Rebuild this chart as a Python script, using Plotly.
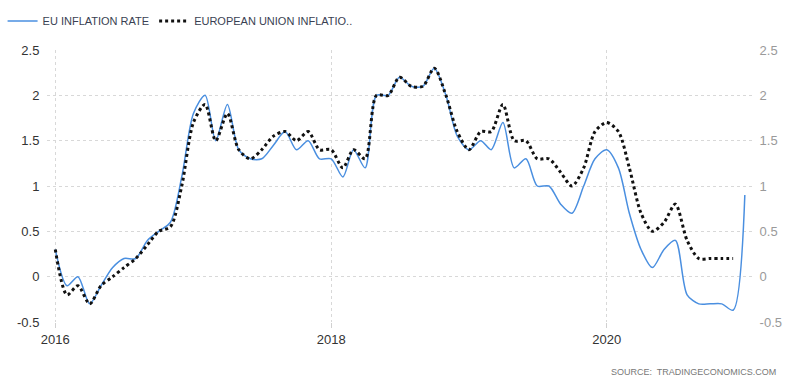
import pandas as pd
import plotly.graph_objects as go

months_blue = pd.date_range("2016-01-01", periods=61, freq="MS")
months_black = months_blue[:60]

eu_inflation_rate = [
    0.3, -0.1, 0.0, -0.3, -0.1, 0.1, 0.2, 0.2, 0.4, 0.5, 0.6, 1.1,
    1.8, 2.0, 1.5, 1.9, 1.4, 1.3, 1.3, 1.45, 1.6, 1.4, 1.5, 1.3,
    1.3, 1.1, 1.4, 1.2, 2.0, 2.0, 2.2, 2.1, 2.1, 2.3, 2.0, 1.55,
    1.4, 1.5, 1.4, 1.7, 1.2, 1.3, 1.0, 1.0, 0.8, 0.7, 1.0, 1.3,
    1.4, 1.2, 0.7, 0.3, 0.1, 0.3, 0.4, -0.2, -0.3, -0.3, -0.3, -0.37,
    0.9,
]
european_union_inflation = [
    0.3, -0.2, -0.1, -0.3, -0.1, 0.0, 0.1, 0.2, 0.35, 0.5, 0.55, 1.0,
    1.7, 1.9, 1.5, 1.8, 1.4, 1.3, 1.4, 1.55, 1.6, 1.5, 1.6, 1.4,
    1.4, 1.2, 1.4, 1.3, 2.0, 2.0, 2.2, 2.1, 2.1, 2.3, 2.0, 1.6,
    1.4, 1.6, 1.6, 1.9, 1.5, 1.5, 1.3, 1.3, 1.15, 1.0, 1.2, 1.6,
    1.7, 1.6, 1.2, 0.7, 0.5, 0.6, 0.8, 0.4, 0.2, 0.2, 0.2, 0.2,
]
y_ticks = [-0.5, 0, 0.5, 1, 1.5, 2, 2.5]
y_tick_labels = ["-0.5", "0", "0.5", "1", "1.5", "2", "2.5"]
x_ticks = ["2016-01-01", "2018-01-01", "2020-01-01"]
x_tick_labels = ["2016", "2018", "2020"]

FONT = "Liberation Sans, Arial, sans-serif"

fig = go.Figure()
fig.add_trace(go.Scatter(
    x=months_blue, y=eu_inflation_rate, mode="lines", name="EU INFLATION RATE",
    line=dict(color="#4a8fe0", width=1.5, shape="spline", smoothing=0.8),
))
fig.add_trace(go.Scatter(
    x=months_black, y=european_union_inflation, mode="lines",
    name="EUROPEAN UNION INFLATIO..",
    line=dict(color="#111111", width=3, dash="dot", shape="spline", smoothing=0.8),
))
# invisible trace for the right-hand axis
fig.add_trace(go.Scatter(
    x=months_blue, y=eu_inflation_rate, yaxis="y2", mode="lines",
    line=dict(width=0, color="rgba(0,0,0,0)"), showlegend=False, hoverinfo="skip",
))

fig.update_layout(
    width=800, height=385,
    paper_bgcolor="white", plot_bgcolor="white",
    margin=dict(l=47, r=48, t=50, b=63, autoexpand=False),
    font=dict(family=FONT, size=12, color="#333"),
    showlegend=True,
    legend=dict(
        orientation="h", x=-0.063, xanchor="left", y=1.16, yanchor="top",
        font=dict(family=FONT, size=11, color="#3a3f52"),
        itemwidth=30, bgcolor="rgba(0,0,0,0)",
    ),
    xaxis=dict(
        type="date", range=["2015-12-10", "2021-01-20"],
        tickvals=x_ticks, ticktext=x_tick_labels,
        showgrid=True, gridcolor="#d8d8d8", griddash="dot", gridwidth=1,
        ticks="outside", ticklen=5, tickcolor="#d0d0d0",
        tickfont=dict(family=FONT, size=13, color="#333"),
        showline=False, zeroline=False,
    ),
    yaxis=dict(
        range=[-0.5, 2.5], tickvals=y_ticks, ticktext=y_tick_labels,
        showgrid=True, gridcolor="#d8d8d8", griddash="dot", gridwidth=1,
        tickfont=dict(family=FONT, size=13, color="#333"),
        zeroline=False, showline=False, ticks="outside", ticklen=4, tickcolor="white",
    ),
    yaxis2=dict(
        range=[-0.5, 2.5], tickvals=y_ticks, ticktext=y_tick_labels,
        overlaying="y", side="right", showgrid=False, zeroline=False,
        tickfont=dict(family=FONT, size=13, color="#9a9a9a"),
        ticks="outside", ticklen=4, tickcolor="white",
    ),
    annotations=[dict(
        text="SOURCE:  TRADINGECONOMICS.COM", xref="paper", yref="paper",
        x=1.037, y=-0.184, xanchor="right", yanchor="middle", showarrow=False,
        font=dict(family=FONT, size=9, color="#777"),
    )],
)

fig.write_html(
    "out.html",
    config={"displayModeBar": False},
    post_script="document.body.style.margin='0';document.body.style.overflow='hidden';",
)
